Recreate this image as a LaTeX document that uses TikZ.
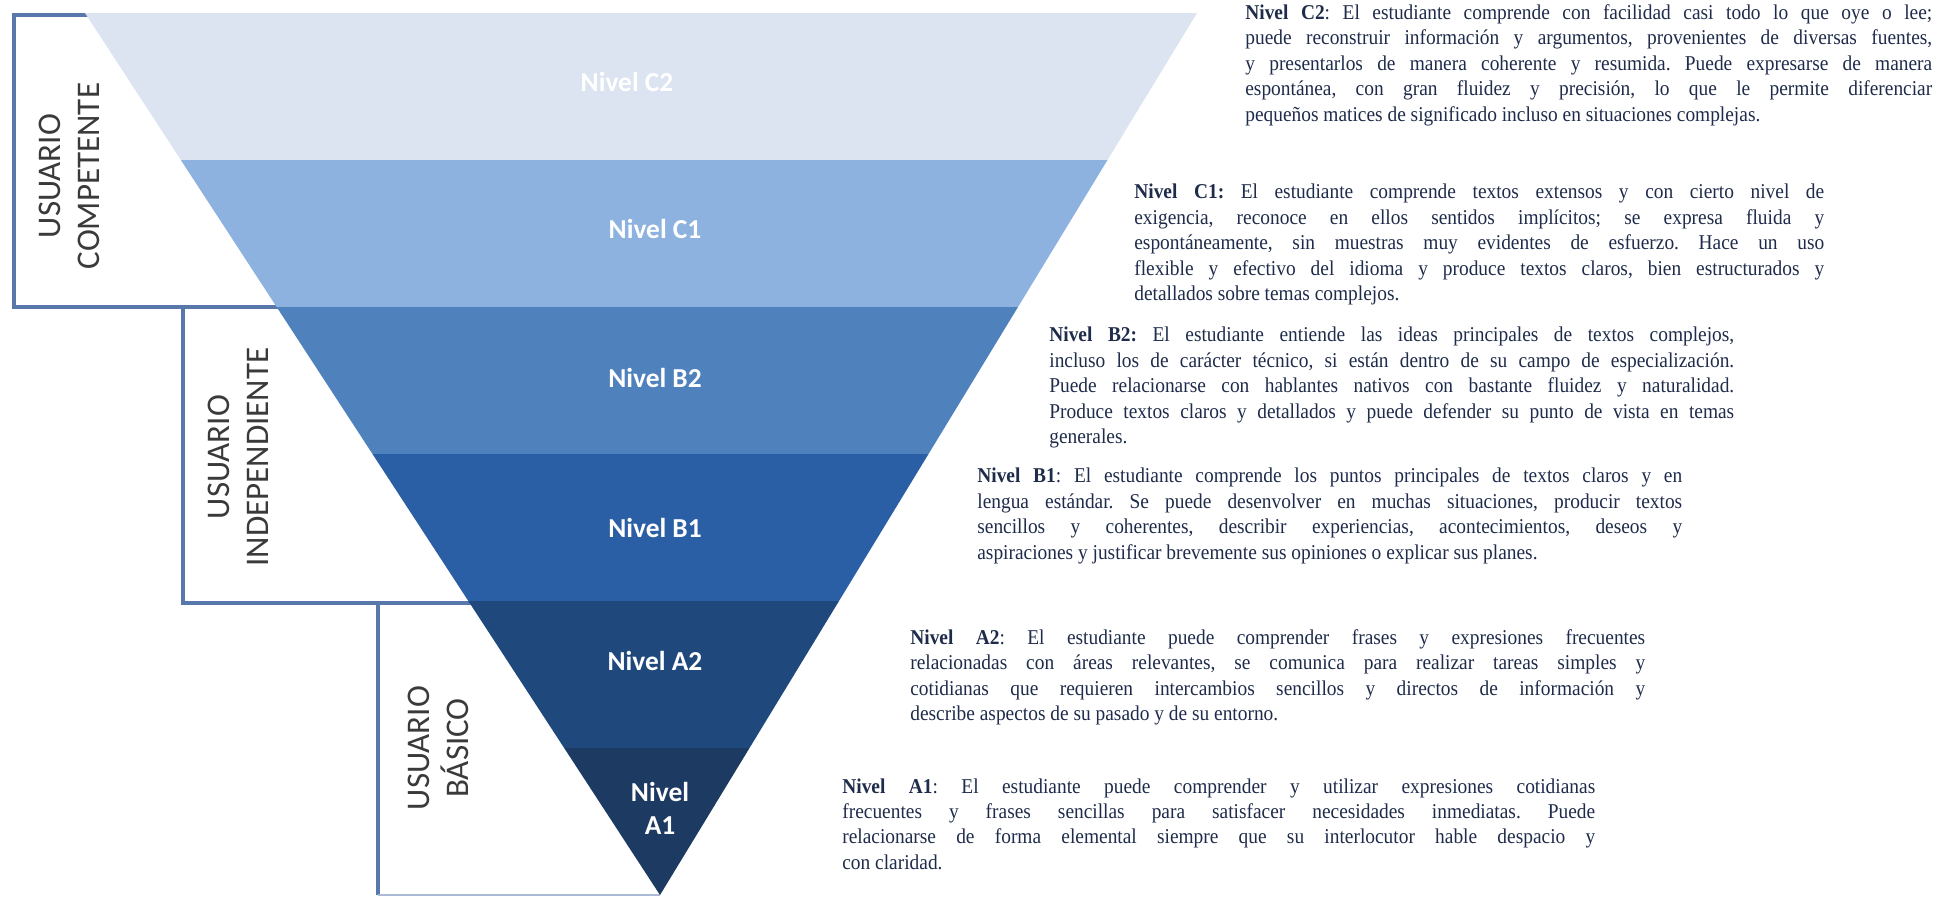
\documentclass[tikz,border=0pt]{standalone}
\usepackage{fontspec}
\setmainfont{Liberation Serif}[FakeStretch=0.92]
\newfontfamily\calibri{Carlito}
\usetikzlibrary{positioning}

\definecolor{bandctwo}{HTML}{DCE4F1}
\definecolor{bandcone}{HTML}{8EB2E0}
\definecolor{bandbtwo}{HTML}{4F81BD}
\definecolor{bandbone}{HTML}{2B5FA5}
\definecolor{bandatwo}{HTML}{1F497D}
\definecolor{bandaone}{HTML}{1D3A62}
\definecolor{bracketblue}{HTML}{5877AB}
\definecolor{usertext}{HTML}{3A3A3A}
\definecolor{desctext}{HTML}{1E2B4A}

\tikzset{
  nivel/.style={text=white, font=\calibri\bfseries\fontsize{15.6}{18.8}\selectfont, align=center},
  usuario/.style={rotate=90, text=usertext, font=\calibri\fontsize{18.8}{22.2}\selectfont, align=center},
  desc/.style={anchor=north west, inner sep=0pt, text=desctext, font=\fontsize{12}{14.5}\selectfont\frenchspacing, align=justify},
  bracket/.style={draw=bracketblue, line width=2.3pt}
}

\begin{document}
\begin{tikzpicture}[x=0.02cm, y=-0.02cm]
\useasboundingbox (0,0) rectangle (1939,897);
\tolerance=10000 \hbadness=10000

% brackets of the three user groups
\draw[bracket] (90,15) -- (14,15) -- (14,307) -- (290,307);
\draw[bracket] (183,307) -- (183,603) -- (480,603);
\draw[bracket] (378,603) -- (378,895);
\draw[draw=bracketblue!50, line width=1.2pt] (378,895) -- (660,895);

% inverted pyramid, one band per level
\begin{scope}
\clip (85,13) -- (1197,13) -- (660,895) -- cycle;
\foreach \col [count=\i from 0] in {bandctwo,bandcone,bandbtwo,bandbone,bandatwo,bandaone}
  \fill[\col] (0,{13+147*\i}) rectangle (1939,{13+147*(\i+1)});
\end{scope}

\node[nivel] (c2) at (627,82) {Nivel C2};
\node[nivel] (c1) at (655,229) {Nivel C1};
\node[nivel] (b2) at (655,378) {Nivel B2};
\node[nivel] (b1) at (655,528) {Nivel B1};
\node[nivel] (a2) at (655,661) {Nivel A2};
\node[nivel] (a1) at (660,808) {Nivel\\A1};

\node[usuario] (competente) at (69,176) {USUARIO\\COMPETENTE};
\node[usuario] (independiente) at (238,457) {USUARIO\\INDEPENDIENTE};
\node[usuario] (basico) at (438,748) {USUARIO\\BÁSICO};

% descriptions
\node[desc, text width=13.74cm] (dc2) at (1245,4) {\textbf{Nivel C2}: El estudiante comprende con facilidad casi todo lo que oye o lee;\linebreak puede reconstruir información y argumentos, provenientes de diversas fuentes,\linebreak y presentarlos de manera coherente y resumida. Puede expresarse de manera\linebreak espontánea, con gran fluidez y precisión, lo que le permite diferenciar\linebreak pequeños matices de significado incluso en situaciones complejas.};
\node[desc, text width=13.8cm] (dc1) at (1134,184) {\textbf{Nivel C1:} El estudiante comprende textos extensos y con cierto nivel de\linebreak exigencia, reconoce en ellos sentidos implícitos; se expresa fluida y\linebreak espontáneamente, sin muestras muy evidentes de esfuerzo. Hace un uso\linebreak flexible y efectivo del idioma y produce textos claros, bien estructurados y\linebreak detallados sobre temas complejos.};
\node[desc, text width=13.7cm] (db2) at (1049,327) {\textbf{Nivel B2:} El estudiante entiende las ideas principales de textos complejos,\linebreak incluso los de carácter técnico, si están dentro de su campo de especialización.\linebreak Puede relacionarse con hablantes nativos con bastante fluidez y naturalidad.\linebreak Produce textos claros y detallados y puede defender su punto de vista en temas\linebreak generales.};
\node[desc, text width=14.1cm] (db1) at (977,468) {\textbf{Nivel B1}: El estudiante comprende los puntos principales de textos claros y en\linebreak lengua estándar. Se puede desenvolver en muchas situaciones, producir textos\linebreak sencillos y coherentes, describir experiencias, acontecimientos, deseos y\linebreak aspiraciones y justificar brevemente sus opiniones o explicar sus planes.};
\node[desc, text width=14.7cm] (da2) at (910,629) {\textbf{Nivel A2}: El estudiante puede comprender frases y expresiones frecuentes\linebreak relacionadas con áreas relevantes, se comunica para realizar tareas simples y\linebreak cotidianas que requieren intercambios sencillos y directos de información y\linebreak describe aspectos de su pasado y de su entorno.};
\node[desc, text width=15.06cm] (da1) at (842,778) {\textbf{Nivel A1}: El estudiante puede comprender y utilizar expresiones cotidianas\linebreak frecuentes y frases sencillas para satisfacer necesidades inmediatas. Puede\linebreak relacionarse de forma elemental siempre que su interlocutor hable despacio y\linebreak con claridad.};
\end{tikzpicture}
\end{document}
